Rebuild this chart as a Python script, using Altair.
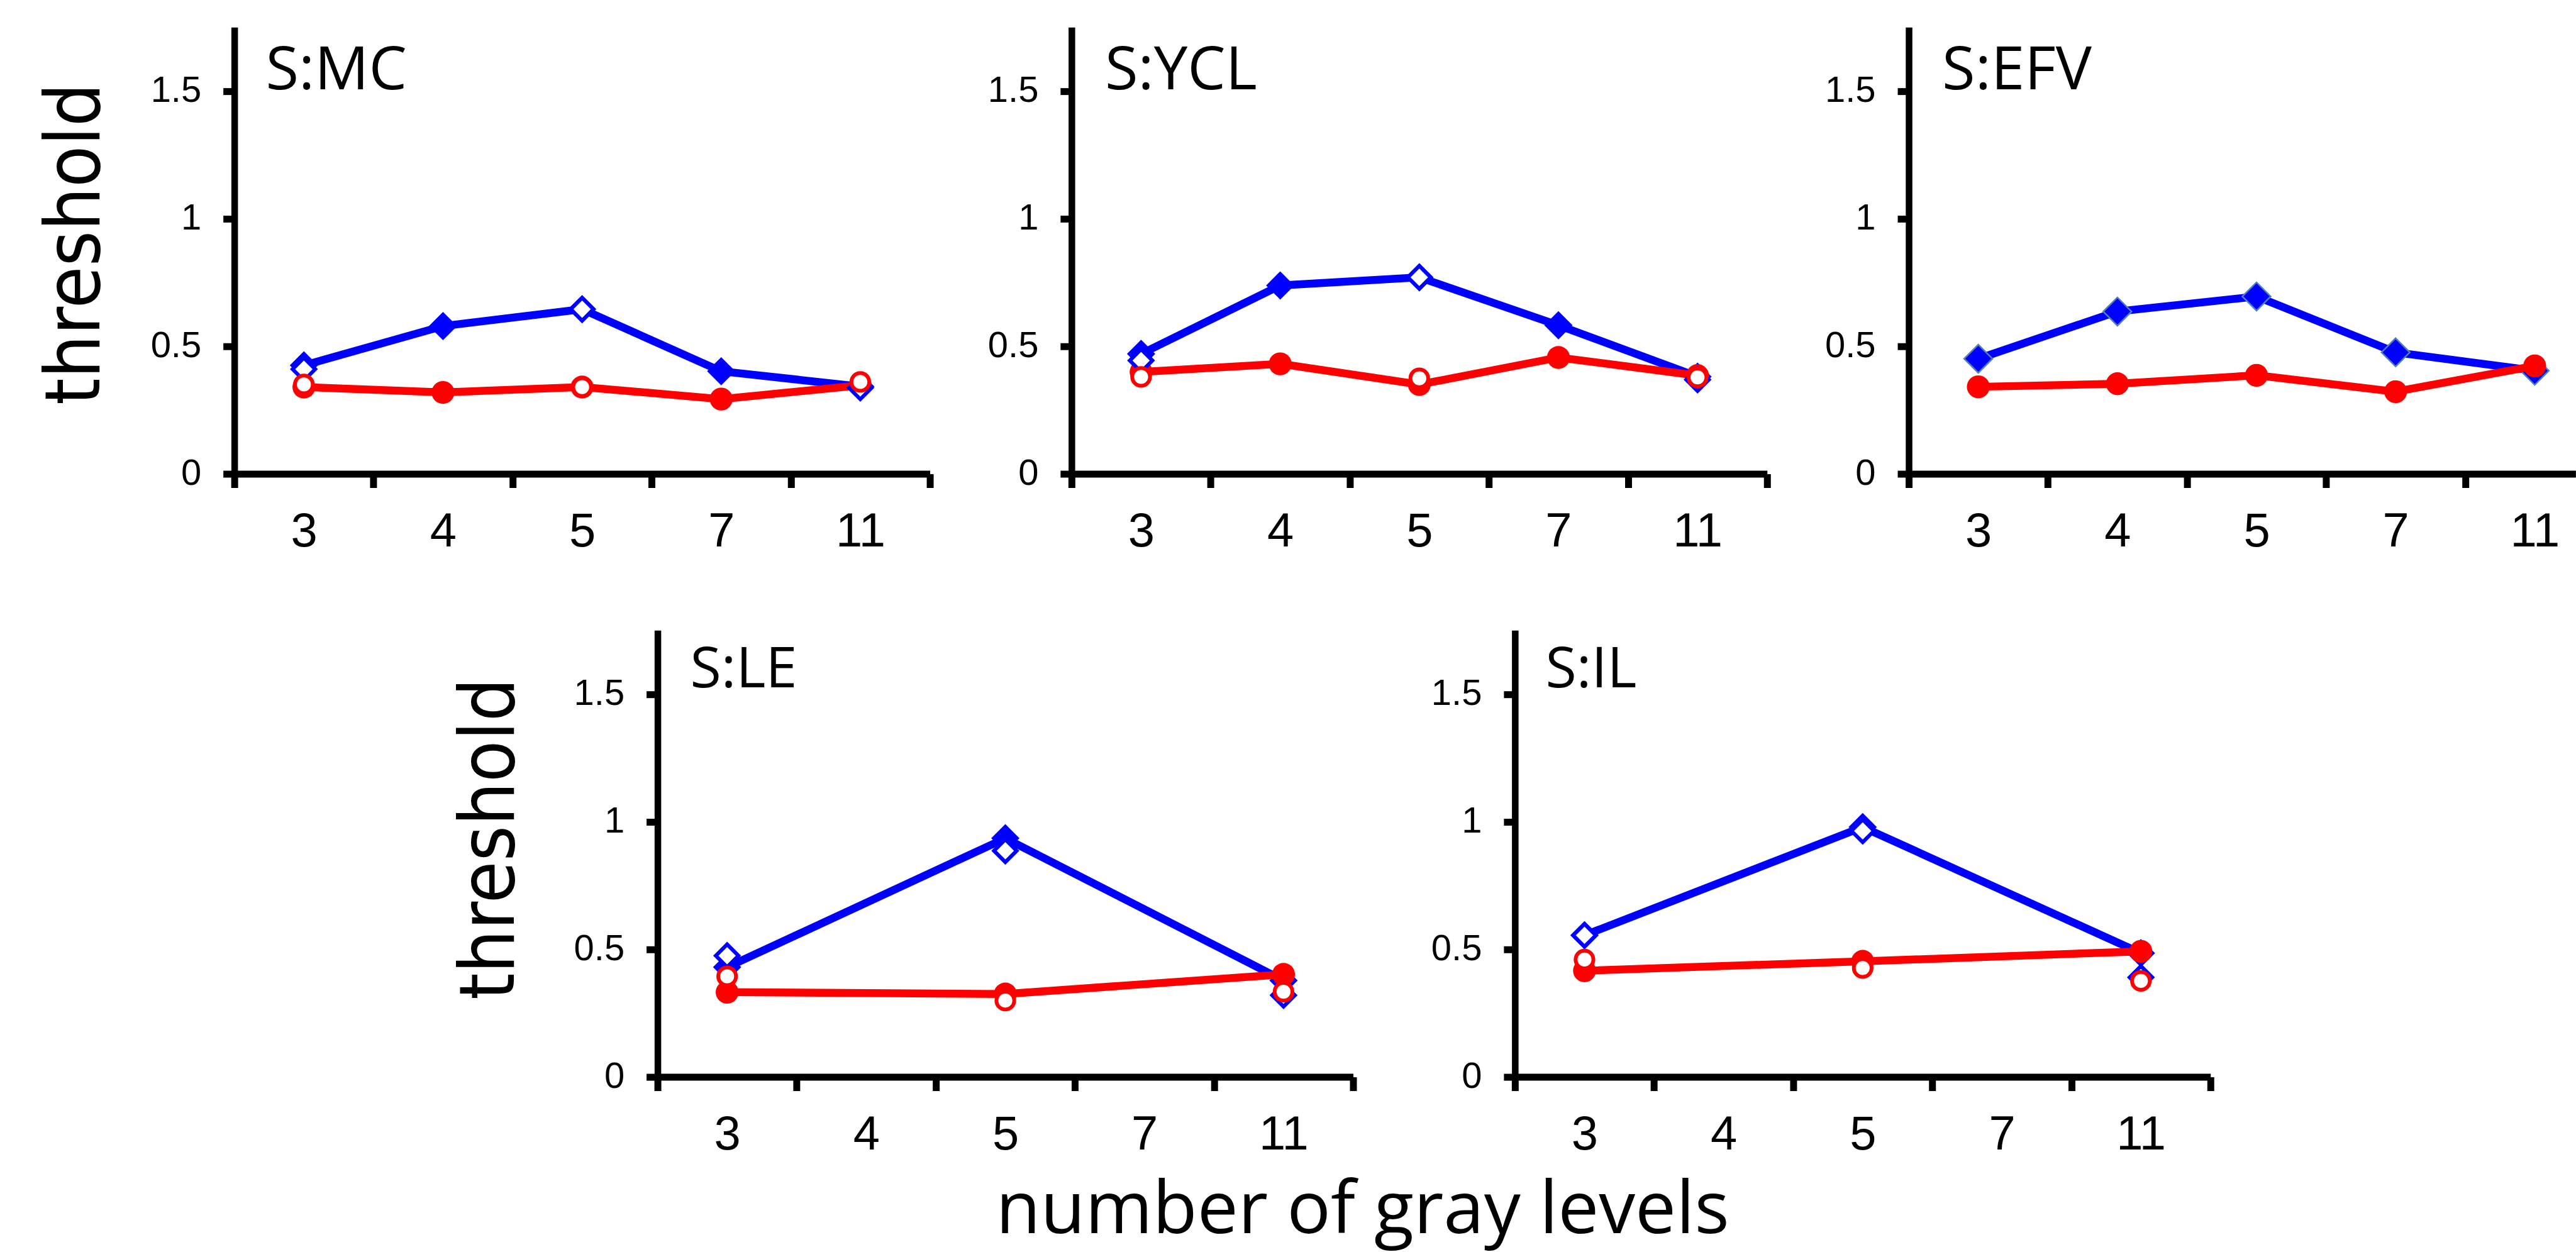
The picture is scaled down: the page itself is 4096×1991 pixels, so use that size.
import altair as alt
import pandas as pd

# ---------------- data ----------------
levels = ["3", "4", "5", "7", "11"]          # x-axis categories (number of gray levels)
full_levels = ["3", "4", "5", "7", "11"]     # levels measured in the top row
sparse_levels = ["3", "5", "11"]             # levels measured in the bottom row / open markers
subjects = ["S:MC", "S:YCL", "S:EFV", "S:LE", "S:IL"]
y_ticks = [0, 0.5, 1, 1.5]

mc_filled_blue = [0.425, 0.579, 0.645, 0.402, 0.342]
mc_filled_red = [0.340, 0.319, 0.340, 0.293, 0.347]
mc_open_blue = [0.410, 0.645, 0.337]
mc_open_red = [0.350, 0.340, 0.360]

ycl_filled_blue = [0.470, 0.738, 0.770, 0.582, 0.381]
ycl_filled_red = [0.399, 0.431, 0.350, 0.456, 0.385]
ycl_open_blue = [0.444, 0.770, 0.369]
ycl_open_red = [0.380, 0.374, 0.378]

efv_filled_blue = [0.451, 0.636, 0.695, 0.476, 0.404]
efv_filled_red = [0.341, 0.353, 0.386, 0.322, 0.423]

le_filled_blue = [0.430, 0.935, 0.378]
le_filled_red = [0.332, 0.325, 0.402]
le_open_blue = [0.475, 0.886, 0.320]
le_open_red = [0.394, 0.299, 0.334]

il_filled_blue = [0.555, 0.979, 0.485]
il_filled_red = [0.416, 0.453, 0.492]
il_open_blue = [0.555, 0.964, 0.390]
il_open_red = [0.460, 0.427, 0.376]

# ---------------- style ----------------
BLUE = "#0000FF"
RED = "#FF0000"
W = 1107.0          # panel plot width
H = 711.0           # panel plot height
BAND = W / len(levels)
YMAX = 1.75
LINE_W = 12.5


def table(lvls, vals, series):
    return pd.DataFrame({
        "level": lvls,
        "pos": [levels.index(l) + 0.5 for l in lvls],
        "value": vals,
        "series": series,
    })


label_expr = "[" + ",".join("'%s'" % l for l in levels) + ",''][datum.value]"


def panel(name, filled_lvls, fb, fr, ob, orr, width, ytitle, title_pad, title_y,
          lab_x, lab_y, lab_size, diamond_stroke=None):
    parts = [table(filled_lvls, fb, "blue"), table(filled_lvls, fr, "red")]
    if ob:
        parts.append(table(sparse_levels, ob, "blue_open"))
    if orr:
        parts.append(table(sparse_levels, orr, "red_open"))
    df = pd.concat(parts, ignore_index=True)

    xmax = width / BAND
    nt = int(xmax + 1e-6)
    xaxis = dict(
        values=list(range(nt + 1)), labelExpr=label_expr,
        labelOffset={"condition": {"test": "datum.value < %d" % len(levels), "value": BAND / 2},
                     "value": 0},
        labelFlush=False, labelOverlap=False, grid=False, title=None,
        tickSize=22, tickWidth=11, tickColor="black",
        domainWidth=11, domainColor="black",
        labelFont="Liberation Sans", labelFontSize=76, labelColor="black",
        labelPadding=33.4,
    )
    yargs = dict(
        values=y_ticks, format="~g", grid=False,
        tickSize=18, tickWidth=11, tickColor="black",
        domainWidth=10.5, domainColor="black",
        labelFont="Liberation Sans", labelFontSize=58, labelColor="black",
        labelPadding=35,
    )
    if ytitle:
        yargs.update(title="threshold", titleFont="DejaVu Sans Condensed",
                     titleFontSize=121, titleFontWeight="normal", titleColor="black",
                     titlePadding=title_pad, titleBaseline="alphabetic", titleY=title_y)
    else:
        yargs.update(title=None)
    X = alt.X("pos:Q", scale=alt.Scale(domain=[0, xmax], nice=False, zero=False), axis=alt.Axis(**xaxis))
    Y = alt.Y("value:Q", scale=alt.Scale(domain=[0, YMAX], nice=False), axis=alt.Axis(**yargs))

    base = alt.Chart(df).encode(x=X, y=Y)
    dkw = dict(shape="diamond", filled=True, size=2025, opacity=1, fill=BLUE)
    if diamond_stroke:
        dkw.update(stroke=diamond_stroke, strokeWidth=2.5)
    else:
        dkw.update(strokeWidth=0)
    layers = [
        base.transform_filter("datum.series == 'blue'").mark_line(color=BLUE, strokeWidth=LINE_W),
        base.transform_filter("datum.series == 'blue'").mark_point(**dkw),
        base.transform_filter("datum.series == 'red'").mark_line(color=RED, strokeWidth=LINE_W),
        base.transform_filter("datum.series == 'red'").mark_point(
            shape="circle", filled=True, size=1325, opacity=1, fill=RED, strokeWidth=0),
        base.transform_filter("datum.series == 'blue_open'").mark_point(
            shape="diamond", filled=True, fill="white", stroke=BLUE, strokeWidth=6,
            size=1300, opacity=1),
        base.transform_filter("datum.series == 'red_open'").mark_point(
            shape="circle", filled=True, fill="white", stroke=RED, strokeWidth=6,
            size=800, opacity=1),
        alt.Chart(pd.DataFrame({"label": [name]}))
        .transform_calculate(pos=str(lab_x), value=str(lab_y))
        .mark_text(align="left", baseline="alphabetic", font="Open Sans",
                   fontSize=lab_size, color="black")
        .encode(x=X, y=Y, text="label:N"),
    ]
    return alt.layer(*layers).properties(width=width, height=H)


def spacer(width):
    return (
        alt.Chart(pd.DataFrame({"s": [0.5]}))
        .mark_point(opacity=0)
        .encode(x=alt.X("s:Q", axis=None, scale=alt.Scale(domain=[0, 1])),
                y=alt.Y("s:Q", axis=None, scale=alt.Scale(domain=[0, 1])))
        .properties(width=width, height=10)
    )


p1 = panel(subjects[0], full_levels, mc_filled_blue, mc_filled_red, mc_open_blue, mc_open_red,
           W, True, 82.1, 344.7, 0.225, 1.506, 96)
p2 = panel(subjects[1], full_levels, ycl_filled_blue, ycl_filled_red, ycl_open_blue, ycl_open_red,
           W, False, 0, 0, 0.24, 1.506, 96)
p3 = panel(subjects[2], full_levels, efv_filled_blue, efv_filled_red, None, None,
           1061.4, False, 0, 0, 0.24, 1.506, 96, diamond_stroke="#4F81BD")
p4 = panel(subjects[3], sparse_levels, le_filled_blue, le_filled_red, le_open_blue, le_open_red,
           W, True, 95.6, 331.6, 0.235, 1.526, 90)
p5 = panel(subjects[4], sparse_levels, il_filled_blue, il_filled_red, il_open_blue, il_open_red,
           W, False, 0, 0, 0.22, 1.526, 90)

row1 = alt.hconcat(p1, p2, p3, spacing=85.5)
row2 = alt.hconcat(
    spacer(228.6), p4, p5, spacing=117.6,
    title=alt.TitleParams(
        "number of gray levels", orient="bottom", anchor="start", font="Open Sans",
        fontSize=116, fontWeight="normal", color="black", baseline="alphabetic",
        offset=118, dx=1212,
    ),
)

chart = (
    alt.vconcat(row1, row2, spacing=118)
    .properties(padding={"left": 60, "top": 42.3, "right": 0, "bottom": 10}, background="white")
    .configure_view(stroke=None)
)

chart.save("out.html", embed_options={"renderer": "svg", "actions": False})
